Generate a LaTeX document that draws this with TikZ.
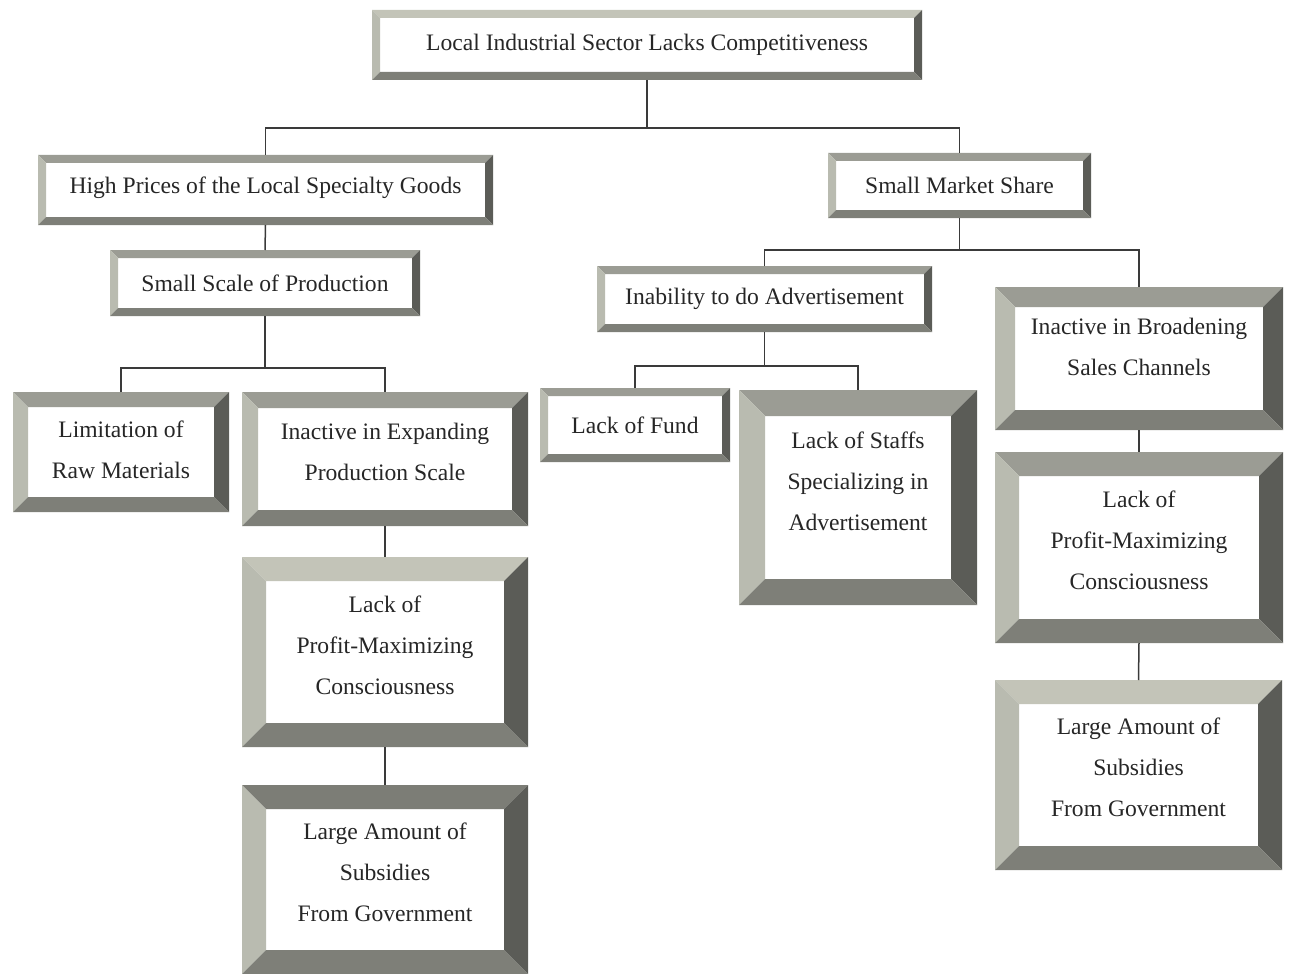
\documentclass[tikz,border=0pt]{standalone}
\usepackage{fontspec}
\setmainfont{Liberation Serif}
\definecolor{bvlight}{HTML}{C3C4B8}
\definecolor{bvmid}{HTML}{9B9C94}
\definecolor{bvdark}{HTML}{7C7D76}
\definecolor{bvleft}{HTML}{B9BBB0}
\definecolor{bvright}{HTML}{5B5C57}
\definecolor{bvbottom}{HTML}{7E7F78}
\definecolor{linkcol}{HTML}{3A3A3A}
\definecolor{txtcol}{HTML}{262626}
\newcommand\boxfont{\fontsize{11.8}{20.5}\selectfont}
\tikzset{
  bevw/.store in=\bvw, bevw=4pt,
  bevtop/.store in=\bvtop, bevtop=bvmid,
  bx/.style={rectangle, fill=white, align=center, font=\boxfont, text=txtcol,
    inner sep=0pt, outer sep=0pt,
    path picture={
      \coordinate (@nw) at (path picture bounding box.north west);
      \coordinate (@ne) at (path picture bounding box.north east);
      \coordinate (@sw) at (path picture bounding box.south west);
      \coordinate (@se) at (path picture bounding box.south east);
      \fill[\bvtop] (@nw) -- (@ne) -- ([shift={(-\bvw,-\bvw)}]@ne) -- ([shift={(\bvw,-\bvw)}]@nw) -- cycle;
      \fill[bvleft] (@nw) -- ([shift={(\bvw,-\bvw)}]@nw) -- ([shift={(\bvw,\bvw)}]@sw) -- (@sw) -- cycle;
      \fill[bvright] (@ne) -- (@se) -- ([shift={(-\bvw,\bvw)}]@se) -- ([shift={(-\bvw,-\bvw)}]@ne) -- cycle;
      \fill[bvbottom] (@sw) -- ([shift={(\bvw,\bvw)}]@sw) -- ([shift={(-\bvw,\bvw)}]@se) -- (@se) -- cycle;
    }},
  link/.style={draw=linkcol, line width=0.75pt}
}
\begin{document}
\begin{tikzpicture}[x=0.5pt, y=-0.5pt]
  \useasboundingbox (0,0) rectangle (1291,974);

  % level 0
  \node[bx, bevtop=bvlight, minimum width=275pt, minimum height=35pt] (top) at (647,45)
    {Local Industrial Sector Lacks Competitiveness};

  % level 1
  \node[bx, text depth=4.5pt, minimum width=227.5pt, minimum height=35pt] (hp) at (265.5,190)
    {High Prices of the Local Specialty Goods};
  \node[bx, minimum width=131.5pt, minimum height=32.5pt] (sms) at (959.5,185.5)
    {Small Market Share};

  % level 2
  \node[bx, minimum width=155pt, minimum height=33pt] (ssp) at (265,283)
    {Small Scale of Production};
  \node[bx, minimum width=167.5pt, minimum height=33pt] (ina) at (764.5,299)
    {Inability to do Advertisement};
  \node[bx, bevw=10pt, text depth=12pt, minimum width=144pt, minimum height=71.5pt] (ibs) at (1139,358.5)
    {Inactive in Broadening\\Sales Channels};

  % level 3
  \node[bx, bevw=7.5pt, text depth=2pt, minimum width=108pt, minimum height=60pt] (lim) at (121,452)
    {Limitation of\\Raw Materials};
  \node[bx, bevw=8pt, text depth=7.5pt, minimum width=143pt, minimum height=67pt] (iep) at (385,459)
    {Inactive in Expanding\\Production Scale};
  \node[bx, minimum width=95pt, minimum height=37pt] (lof) at (635,425)
    {Lack of Fund};
  \node[bx, bevw=13pt, text depth=16pt, minimum width=119pt, minimum height=107.5pt] (los) at (858,497.5)
    {Lack of Staffs\\Specializing in\\Advertisement};
  \node[bx, bevw=12pt, text depth=7pt, minimum width=144pt, minimum height=95.5pt] (lpr) at (1139,547.5)
    {Lack of\\Profit-Maximizing\\Consciousness};

  % level 4
  \node[bx, bevw=12pt, bevtop=bvlight, text depth=7pt, minimum width=143pt, minimum height=95pt] (lpl) at (385,652)
    {Lack of\\Profit-Maximizing\\Consciousness};
  \node[bx, bevw=12pt, bevtop=bvlight, text depth=8pt, minimum width=143.5pt, minimum height=95pt] (lar) at (1138.5,775)
    {Large Amount of\\Subsidies\\From Government};
  \node[bx, bevw=12pt, bevtop=bvdark, text depth=7pt, minimum width=143pt, minimum height=94.5pt] (lal) at (385,879.5)
    {Large Amount of\\Subsidies\\From Government};

  % junction levels
  \coordinate (j0) at (0,128);
  \coordinate (j1) at (0,368);
  \coordinate (j2) at (0,250);
  \coordinate (j3) at (0,366);

  % connectors
  \draw[link] (top.south) -- (top.south |- j0);
  \draw[link] (hp.north) |- (j0 -| sms.north) -- (sms.north);
  \draw[link] (hp.south) -- (ssp.north);
  \draw[link] (ssp.south) -- (ssp.south |- j1);
  \draw[link] (lim.north) |- (j1 -| iep.north) -- (iep.north);
  \draw[link] (iep.south) -- (lpl.north);
  \draw[link] (lpl.south) -- (lal.north);
  \draw[link] (sms.south) -- (sms.south |- j2);
  \draw[link] (ina.north) |- (j2 -| ibs.north) -- (ibs.north);
  \draw[link] (ina.south) -- (ina.south |- j3);
  \draw[link] (lof.north) |- (j3 -| los.north) -- (los.north);
  \draw[link] (ibs.south) -- (lpr.north);
  \draw[link] (lpr.south) -- (lar.north);
\end{tikzpicture}
\end{document}
